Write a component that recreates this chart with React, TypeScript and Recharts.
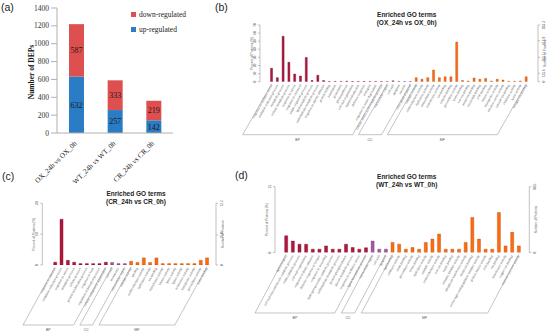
import React from "react";
import { BarChart, Bar, XAxis, YAxis, Cell, LabelList } from "recharts";

// (a) number of DEPs per comparison
const DEP_COMPARISONS = ["OX_24h vs OX_0h", "WT_24h vs WT_0h", "CR_24h vs CR_0h"];
const DEP_UP = [632, 257, 142];
const DEP_DOWN = [587, 333, 219];
const DEP_TICKS = [0, 200, 400, 600, 800, 1000, 1200, 1400];
const DEP_SERIES = ["down-regulated", "up-regulated"];

const GO_GROUPS = ["BP", "CC", "MF"];

// (b) OX_24h vs OX_0h
const OX_TERMS = [
  "response to oxidative stress", "oxidation-reduction process", "metabolic process",
  "cellular metabolic process", "response to stress", "response to chemical",
  "single-organism process", "lipid metabolic process", "carbohydrate metabolic process",
  "response to abiotic stimulus", "protein folding", "translation", "proteolysis",
  "photosynthesis", "cell wall organization", "signal transduction", "defense response",
  "transport", "response to water deprivation", "cellular amino acid metabolic process",
  "extracellular region", "cell wall", "apoplast", "vacuole", "chloroplast thylakoid",
  "catalytic activity", "oxidoreductase activity", "hydrolase activity", "antioxidant activity",
  "transferase activity", "ion binding", "cofactor binding", "peroxidase activity", "heme binding",
  "iron ion binding", "metal ion binding", "nucleotide binding", "ATP binding", "kinase activity",
  "transporter activity", "electron carrier activity", "calcium ion binding", "chitinase activity",
  "lyase activity", "tetrapyrrole binding",
];
const OX_GROUP_SIZES = [20, 5, 20];
const OX_PERCENT = [
  16.5, 5, 56, 24, 9.5, 7, 30, 1.5, 8, 1.5, 0.3, 0.3, 0.3, 0.6, 0.3, 0.3, 0.3, 0.3, 0.3, 0.3,
  0.3, 1.2, 0.3, 0.3, 0.3,
  5, 3, 5, 14.4, 5, 6, 6, 49, 1.5, 0.8, 4.5, 3, 4, 0.8, 3, 2, 0.5, 0.5, 0.8, 6,
];
const OX_LEFT_TICKS = [0, 10, 20, 30, 40, 50, 60, 70];
const OX_PROTEINS = 1219;
const OX_RIGHT_TICKS = [0, 125.6, 365.7, 616.8, 853.3];

// (c) CR_24h vs CR_0h
const CR_TERMS = [
  "response to stimulus", "oxidation-reduction process", "response to stress", "metabolic process",
  "cellular process", "protein modification process", "response to heat",
  "regulation of biological process", "cellular component organization",
  "cell wall", "membrane", "extracellular region",
  "catalytic activity", "binding", "oxidoreductase activity", "hydrolase activity", "ion binding",
  "transferase activity", "kinase activity", "lyase activity", "ligase activity",
  "isomerase activity", "transporter activity", "peroxidase activity", "heme binding",
];
const CR_GROUP_SIZES = [9, 3, 13];
const CR_PERCENT = [
  0.9, 14.8, 1.5, 0.9, 0.45, 0.45, 0.45, 0.45, 0.9,
  0.8, 0.45, 0.45,
  1.2, 0.8, 2.3, 0.8, 2.3, 0.45, 0.45, 0.45, 0.45, 0.45, 0.45, 1.5, 2.3,
];
const CR_LEFT_TICKS = [0, 10, 20];
const CR_PROTEINS = 361;
const CR_RIGHT_TICKS = [0, 35, 72.2];

// (d) WT_24h vs WT_0h
const WT_TERMS = [
  "lipid transport", "cell wall macromolecule catabolic process", "chitin catabolic process",
  "cell wall organization", "response to biotic stimulus", "defense response to fungus",
  "response to wounding", "hydrogen peroxide catabolic process", "carbohydrate metabolic process",
  "protein phosphorylation", "glucan metabolic process", "response to oxidative stress",
  "lignin biosynthetic process",
  "extracellular region", "cell wall", "apoplast",
  "lipid binding", "chitinase activity", "chitin binding", "peroxidase activity", "heme binding",
  "hydrolase activity", "catalytic activity", "oxidoreductase activity", "iron ion binding",
  "sugar binding", "enzyme inhibitor activity", "xyloglucan transferase activity",
  "metal ion binding", "serine-type endopeptidase inhibitor activity", "protein kinase activity",
  "ATP binding", "ion binding", "transferase activity", "copper ion binding",
  "nutrient reservoir activity",
];
const WT_GROUP_SIZES = [13, 3, 20];
const WT_PERCENT = [
  3.8, 2.6, 1.9, 1.9, 0.76, 0.76, 1.5, 0.76, 0.76, 1.9, 1.14, 0.76, 1.07,
  2.6, 0.76, 0.76,
  2.3, 1.9, 0.76, 1.14, 0.76, 2.3, 3.05, 4.2, 0.76, 0.76, 0.76, 2.3, 8.0, 3.05, 0.76, 0.76,
  9.1, 1.5, 4.6, 1.5,
];
const WT_LEFT_TICKS = [0, 15];
const WT_PROTEINS = 590;
const WT_RIGHT_TICKS = [0, 88.5];

const UP_COLOR = "#2a7cc4";
const DOWN_COLOR = "#de4f4f";
const GROUP_FILL = ["#b5153d", "#a45a9f", "#ff6a10"];
const GROUP_STROKE = ["#6e0b23", "#6a3468", "#b44800"];
const SERIF = "Liberation Serif";
const SANS = "Liberation Sans";

function CompTick(props: any) {
  const { x, y, payload } = props;
  return (
    <text
      transform={`translate(${x + 1},${y + 3}) rotate(-45)`}
      textAnchor="end"
      fontSize={7.2}
      fontFamily={SERIF}
      fill="#222"
    >
      {payload.value}
    </text>
  );
}

function CountTick(props: any) {
  const { x, y, payload } = props;
  return (
    <text x={x} y={y} dy={2.6} textAnchor="end" fontSize={7.5} fontFamily={SERIF} fill="#333">
      {payload.value}
    </text>
  );
}

function DepLegend() {
  const colors = [DOWN_COLOR, UP_COLOR];
  return (
    <div style={{ position: "absolute", left: 131, top: 7, fontFamily: SERIF, fontSize: 7.5, color: "#222" }}>
      {DEP_SERIES.map((name, i) => (
        <div key={name} style={{ display: "flex", alignItems: "center", height: 15 }}>
          <span style={{ width: 5, height: 5, background: colors[i], marginRight: 3 }} />
          {name}
        </div>
      ))}
    </div>
  );
}

function DepChart() {
  const data = DEP_COMPARISONS.map((name, i) => ({ name, up: DEP_UP[i], down: DEP_DOWN[i] }));
  // svg lifted 22px, plot top stays at y=8 on the page
  return (
    <>
      <div style={{ position: "absolute", left: 0, top: -22 }}>
        <BarChart width={190} height={212} data={data} margin={{ top: 30, right: 17, left: 0, bottom: 0 }}>
          <XAxis
            dataKey="name"
            height={57}
            tick={<CompTick />}
            tickLine={false}
            interval={0}
            axisLine={{ stroke: "#b0b0b0" }}
          />
          <YAxis
            width={57}
            type="number"
            domain={[0, 1400]}
            ticks={DEP_TICKS}
            interval={0}
            axisLine={{ stroke: "#b0b0b0" }}
            tickLine={{ stroke: "#b0b0b0" }}
            tick={<CountTick />}
          />
          <Bar dataKey="up" name="up-regulated" stackId="a" fill={UP_COLOR} barSize={15} isAnimationActive={false}>
            <LabelList dataKey="up" position="center" fill="#1a1a1a" fontSize={8} fontFamily={SERIF} />
          </Bar>
          <Bar dataKey="down" name="down-regulated" stackId="a" fill={DOWN_COLOR} barSize={15} isAnimationActive={false}>
            <LabelList dataKey="down" position="center" fill="#1a1a1a" fontSize={8} fontFamily={SERIF} />
          </Bar>
        </BarChart>
      </div>
      <div
        style={{
          position: "absolute",
          left: 30.5,
          top: 72,
          transform: "translate(-50%, -50%) rotate(-90deg)",
          whiteSpace: "nowrap",
          fontFamily: SERIF,
          fontWeight: "bold",
          fontSize: 7.5,
          color: "#111",
        }}
      >
        Number of DEPs
      </div>
      <DepLegend />
    </>
  );
}

function makeTermTick(sizes: number[], step: number, hb: number, dx: number) {
  const starts: number[] = [];
  sizes.reduce((acc, s) => {
    starts.push(acc);
    return acc + s;
  }, 0);
  return (props: any) => {
    const { x, y, payload } = props;
    const i = props.index ?? payload.index;
    let g = 0;
    while (g < sizes.length - 1 && i >= starts[g + 1]) g++;
    const k = i - starts[g];
    const count = sizes[g];
    const yb = y - 2 + hb;
    return (
      <g>
        <text
          transform={`translate(${x + 0.8},${y + 1.5}) rotate(-61)`}
          textAnchor="end"
          fontSize={3.1}
          fill="#666"
        >
          {payload.value}
        </text>
        {k === 0 && (
          <>
            <line x1={x} y1={y} x2={x - dx} y2={yb} stroke="#888" strokeWidth={0.5} />
            <line x1={x - dx} y1={yb} x2={x - dx + (count - 1) * step} y2={yb} stroke="#888" strokeWidth={0.5} />
            <text x={x - dx + ((count - 1) * step) / 2} y={yb + 6} textAnchor="middle" fontSize={3.5} fill="#555">
              {GO_GROUPS[g]}
            </text>
          </>
        )}
        {k === count - 1 && <line x1={x} y1={y} x2={x - dx} y2={yb} stroke="#888" strokeWidth={0.5} />}
      </g>
    );
  };
}

function VertTick(props: any) {
  const { x, y, payload, side } = props;
  const tx = side === "right" ? x + 3 : x;
  const v = payload.value;
  const txt = side === "right" ? (v === 0 ? "0" : v.toFixed(1)) : String(v);
  return (
    <text transform={`rotate(-90 ${tx} ${y})`} x={tx} y={y} textAnchor="middle" fontSize={3.2} fill="#555">
      {txt}
    </text>
  );
}

type GoProps = {
  terms: string[];
  values: number[];
  sizes: number[];
  max: number;
  leftTicks: number[];
  proteins: number;
  rightTicks: number[];
  title: string;
  left: number;
  top: number;
  width: number;
  height: number;
  marginTop: number;
  leftW: number;
  rightW: number;
  xH: number;
  padL: number;
  padR: number;
  hb: number;
  dx: number;
  titleX: number;
  titleY: number;
};

function GoChart(p: GoProps) {
  const data = p.terms.map((term, i) => ({ term, value: p.values[i] }));
  const groupOf: number[] = [];
  p.sizes.forEach((s, g) => {
    for (let j = 0; j < s; j++) groupOf.push(g);
  });
  const plotW = p.width - p.leftW - p.rightW;
  const step = (plotW - p.padL - p.padR) / p.terms.length;
  const tick = makeTermTick(p.sizes, step, p.hb, p.dx);
  return (
    <>
      <div style={{ position: "absolute", left: p.left, top: p.top - 20 }}>
        <BarChart
          width={p.width}
          height={p.height + 20}
          data={data}
          barCategoryGap="30%"
          margin={{ top: p.marginTop + 20, right: 0, left: 0, bottom: 0 }}
          style={{ fontFamily: SANS }}
        >
          <XAxis
            dataKey="term"
            height={p.xH}
            interval={0}
            tick={tick}
            tickLine={false}
            axisLine={false}
            tickSize={2}
            tickMargin={0}
            padding={{ left: p.padL, right: p.padR }}
          />
          <YAxis
            yAxisId="left"
            width={p.leftW}
            domain={[0, p.max]}
            allowDataOverflow
            ticks={p.leftTicks}
            interval={0}
            tickSize={2}
            stroke="#999"
            strokeWidth={0.6}
            tick={<VertTick side="left" />}
            label={{
              value: "Percent of Proteins (%)",
              angle: -90,
              position: "insideLeft",
              offset: p.leftW - 8,
              style: { textAnchor: "middle", fontSize: 3.2, fill: "#555" },
            }}
          />
          <YAxis
            yAxisId="right"
            orientation="right"
            width={p.rightW}
            domain={[0, (p.max * p.proteins) / 100]}
            allowDataOverflow
            ticks={p.rightTicks}
            interval={0}
            tickSize={2}
            stroke="#999"
            strokeWidth={0.6}
            tick={<VertTick side="right" />}
            label={{
              value: "Number of Proteins",
              angle: -90,
              position: "insideRight",
              offset: p.rightW - 7,
              style: { textAnchor: "middle", fontSize: 3.2, fill: "#555" },
            }}
          />
          <Bar dataKey="value" yAxisId="left" isAnimationActive={false}>
            {data.map((d, i) => (
              <Cell key={d.term} fill={GROUP_FILL[groupOf[i]]} stroke={GROUP_STROKE[groupOf[i]]} strokeWidth={0.4} />
            ))}
          </Bar>
        </BarChart>
      </div>
      <div
        style={{
          position: "absolute",
          left: p.titleX - 70,
          width: 140,
          top: p.titleY - 4.2,
          textAlign: "center",
          fontFamily: SANS,
          fontWeight: "bold",
          fontSize: 6.5,
          lineHeight: "8.3px",
          color: "#222",
        }}
      >
        <div>Enriched GO terms</div>
        <div>({p.title})</div>
      </div>
    </>
  );
}

const panelLabel = (text: string, left: number, top: number) => (
  <div
    style={{ position: "absolute", left, top, fontFamily: SANS, fontSize: 10.5, color: "#222", lineHeight: "11px" }}
  >
    {text}
  </div>
);

export default function App() {
  return (
    <div style={{ position: "absolute", left: 0, top: 0, width: 550, height: 335, background: "#fff", overflow: "hidden" }}>
      <DepChart />
      <GoChart
        terms={OX_TERMS}
        values={OX_PERCENT}
        sizes={OX_GROUP_SIZES}
        max={70}
        leftTicks={OX_LEFT_TICKS}
        proteins={OX_PROTEINS}
        rightTicks={OX_RIGHT_TICKS}
        title="OX_24h vs OX_0h"
        left={230}
        top={20}
        width={320}
        height={130}
        marginTop={5}
        leftW={30}
        rightW={12}
        xH={68.3}
        padL={8.8}
        padR={8.8}
        hb={53}
        dx={29}
        titleX={406.7}
        titleY={15}
      />
      <GoChart
        terms={CR_TERMS}
        values={CR_PERCENT}
        sizes={CR_GROUP_SIZES}
        max={20}
        leftTicks={CR_LEFT_TICKS}
        proteins={CR_PROTEINS}
        rightTicks={CR_RIGHT_TICKS}
        title="CR_24h vs CR_0h"
        left={12}
        top={198}
        width={212}
        height={135}
        marginTop={5.3}
        leftW={30.3}
        rightW={8}
        xH={68}
        padL={9.5}
        padR={6}
        hb={60}
        dx={32}
        titleX={136}
        titleY={194.3}
      />
      <GoChart
        terms={WT_TERMS}
        values={WT_PERCENT}
        sizes={WT_GROUP_SIZES}
        max={15}
        leftTicks={WT_LEFT_TICKS}
        proteins={WT_PROTEINS}
        rightTicks={WT_RIGHT_TICKS}
        title="WT_24h vs WT_0h"
        left={245}
        top={182}
        width={295}
        height={150}
        marginTop={4.7}
        leftW={30}
        rightW={10.7}
        xH={79.5}
        padL={7.7}
        padR={7.3}
        hb={60.5}
        dx={31}
        titleX={406.7}
        titleY={176.7}
      />
      {panelLabel("(a)", 1, 2)}
      {panelLabel("(b)", 215, 2)}
      {panelLabel("(c)", 2, 171)}
      {panelLabel("(d)", 235, 170)}
    </div>
  );
}
